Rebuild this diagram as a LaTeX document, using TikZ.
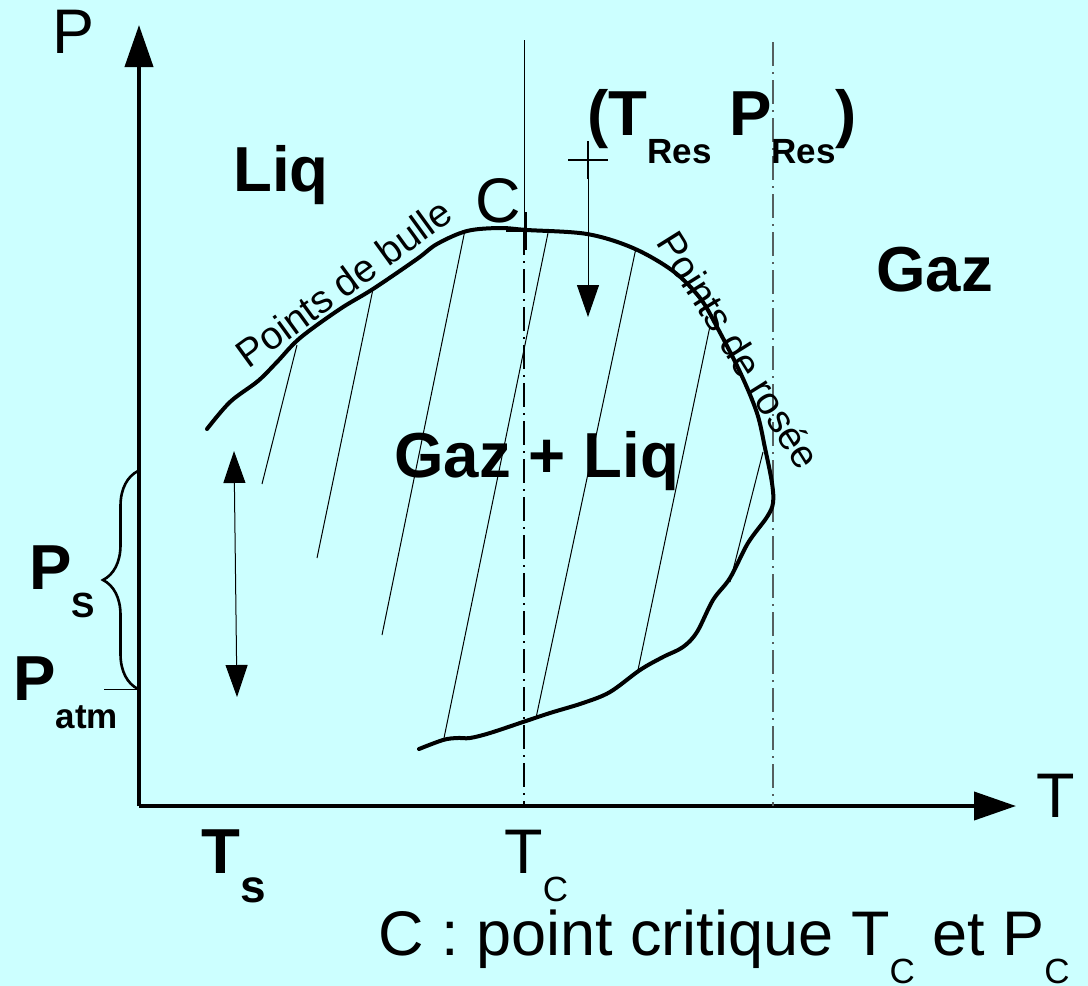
\documentclass[tikz,border=0pt]{standalone}
\usepackage{fontspec}
\setmainfont{Liberation Sans}
\usetikzlibrary{arrows.meta,positioning,decorations.pathreplacing}
\definecolor{bgcyan}{RGB}{204,255,255}
\definecolor{linegray}{RGB}{85,95,95}
\newcommand{\lowsub}[1]{\raisebox{-14pt}{\fontsize{17.5}{17.5}\selectfont #1}}
\tikzset{
  >={Triangle[length=16pt,width=11pt]},
  axis/.style={line width=2pt, -{Triangle[length=21pt,width=14pt]}},
  curve/.style={line width=2pt, line join=round, line cap=round},
  tie/.style={line width=0.5pt},
  dashdot/.style={line width=0.6pt, dash pattern=on 12pt off 3pt on 1pt off 3pt},
  crossmark/.style={line width=1.3pt},
  bigbold/.style={font=\fontsize{31.8}{31.8}\selectfont\bfseries, inner sep=0pt, anchor=base west},
  bigreg/.style={font=\fontsize{31.5}{31.5}\selectfont, inner sep=0pt, anchor=base west},
  curvelabel/.style={font=\fontsize{19.5}{19.5}\selectfont, inner sep=0pt},
}

\begin{document}
\begin{tikzpicture}[x=0.5pt, y=-0.5pt]
    \fill[bgcyan] (0,0) rectangle (1088,986);
    \useasboundingbox (0,0) rectangle (1088,986);

    % axes
    \coordinate (O)    at (139,806);
    \coordinate (Ptop) at (139,25);
    \coordinate (Tend) at (1016,806);
    \draw[axis] (O) -- (Ptop);
    \draw[axis] (O) -- (Tend);
    \node[bigreg] (Plabel) at (52,53)   {P};
    \node[bigreg] (Tlabel) at (1036,817) {T};

    % verticals at Tc and Tres
    \coordinate (C)      at (526,231);
    \coordinate (Tctop)  at (524,40);
    \coordinate (Tcbot)  at (524,806);
    \coordinate (Trtop)  at (773,42);
    \coordinate (Trbot)  at (773,806);
    \draw[tie] (Tctop) -- (524,231);
    \draw[dashdot] (524,231) -- (Tcbot);
    \draw[dashdot, linegray] (Trtop) -- (Trbot);

    % tie lines
    \foreach \xa/\ya/\xb/\yb in {297/345/262/484, 373/289/317/558, 465/230/382/635,
        548/233/444/738, 636/248/536/718, 710/326/638/670, 763/452/730/582}
      \draw[tie] (\xa,\ya) -- (\xb,\yb);

    % phase envelope
    \draw[curve] plot[smooth, tension=0.55] coordinates {
      (207,429) (230,402) (258,381) (277,362) (300,338) (340,309) (373,289)
      (417,259) (437,244) (467,231) (500,228) (527,230) (587,234) (633,248)
      (673,271) (700,298) (717,327) (740,372) (757,413) (765,448) (772,483)
      (773,503) (767,517) (748,543) (730,578) (713,600) (697,632) (683,647)
      (663,657) (640,670) (610,692) (583,703) (550,713) (523,722) (490,733)
      (470,738) (457,738) (443,740) (419,749)};
    \node[curvelabel, rotate=36, anchor=base] (bulle) at (352,294) {Points de bulle};
    \node[curvelabel, rotate=-58] (rosee) at (739,350) {Points de rosée};

    % critical point
    \draw[crossmark] ([xshift=-10pt]C) -- ([xshift=10pt]C);
    \draw[crossmark] ([yshift=9.5pt]C) -- ([yshift=-9.5pt]C);
    \node[bigreg] (Clabel) at (475,222) {C};

    % reservoir point
    \coordinate (R)    at (588,160);
    \coordinate (Rtip) at (588,317);
    \draw[crossmark] ([xshift=-10pt]R) -- ([xshift=10pt]R);
    \draw[crossmark] ([yshift=9.5pt]R) -- ([yshift=-9.5pt]R);
    \draw[tie, ->] (R) -- (Rtip);
    \node[bigbold] (res) at (587,135) {(T\lowsub{Res} P\lowsub{Res})};

    % regions
    \node[bigbold] (liq) at (233,191) {Liq};
    \node[bigbold] (gaz) at (876,291) {Gaz};
    \node[bigbold] (mix) at (394,477) {Gaz + Liq};

    % pressure range
    \coordinate (Bbot) at (138,689);
    \coordinate (Btop) at (138,471);
    \coordinate (Patmtick) at (104,689);
    \draw[line width=1.3pt, decorate, decoration={brace, amplitude=17.5pt}] (Bbot) -- (Btop);
    \draw[tie] (Patmtick) -- (Bbot);
    \coordinate (Dtop) at (234,451);
    \coordinate (Dbot) at (237,697);
    \draw[tie, <->] (Dtop) -- (Dbot);
    \node[bigbold] (Ps)   at (29,589) {P\lowsub{S}};
    \node[bigbold] (Patm) at (13,700) {P\lowsub{atm}};

    % temperature labels
    \node[bigbold] (Ts) at (201,873) {T\raisebox{-14.5pt}{\fontsize{23}{23}\selectfont s}};
    \node[bigreg]  (Tc) at (504,873) {T\lowsub{C}};
    \node[bigreg]  (legend) at (378,955) {C : point critique T\lowsub{C} et P\lowsub{C}};
  \end{tikzpicture}
\end{document}
